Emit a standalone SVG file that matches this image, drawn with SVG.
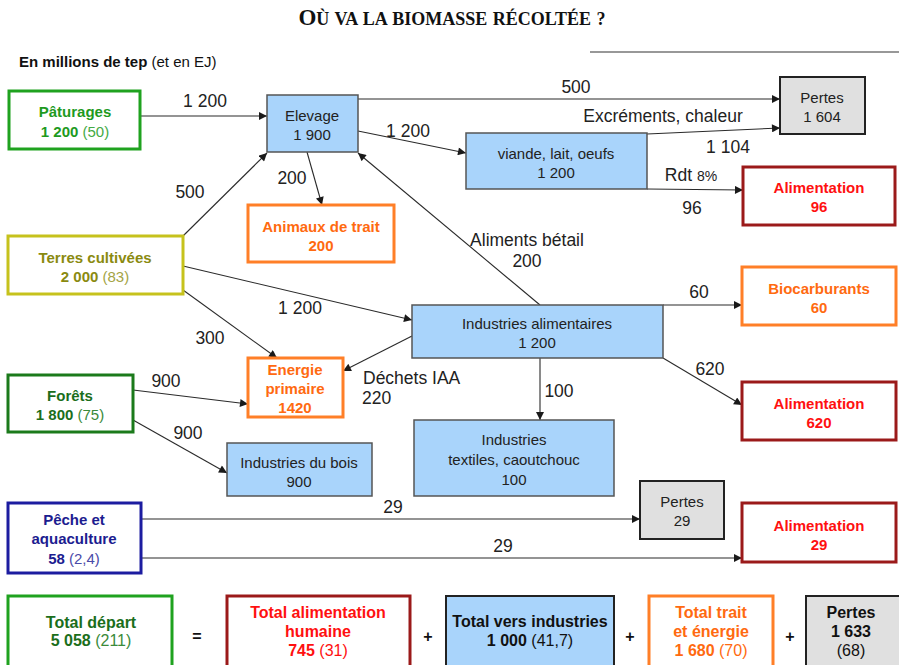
<svg xmlns="http://www.w3.org/2000/svg" width="899" height="665" viewBox="0 0 899 665">
<defs>
<marker id="ah" viewBox="0 0 10 10" refX="10" refY="5" markerWidth="9" markerHeight="8" markerUnits="userSpaceOnUse" orient="auto">
<path d="M0,0 L10,5 L0,10 z" fill="#1a1a1a"/>
</marker>
<style>
text{font-family:"Liberation Sans",Arial,sans-serif;}
.t{font-size:15px;text-anchor:middle;fill:#222;}
.b{font-weight:bold;}
.n{font-weight:normal;}
.lbl{font-size:17.5px;fill:#222;}
.lm{text-anchor:middle;}
.blue{fill:#a9d4fb;stroke:#555;stroke-width:1.5;}
.gray{fill:#e0e0e0;stroke:#222;stroke-width:2;}
.green{fill:#fff;stroke:#1fa21f;stroke-width:3;}
.dgreen{fill:#fff;stroke:#1b7a1b;stroke-width:3;}
.olive{fill:#fff;stroke:#c6c21c;stroke-width:3;}
.orange{fill:#fff;stroke:#ff7f27;stroke-width:3;}
.red{fill:#fff;stroke:#9b1a1a;stroke-width:3;}
.navy{fill:#fff;stroke:#1c1ca0;stroke-width:3;}
.cg{fill:#1e9a1e;}
.cg2{fill:#44aa44;}
.cdg{fill:#1b6e1b;}
.cdg2{fill:#3a8a3a;}
.co{fill:#8a8a10;}
.co2{fill:#a4a444;}
.cor{fill:#ff6a10;}
.cr{fill:#ff1010;}
.cn{fill:#1c1c90;}
.cn2{fill:#4a4aa8;}
.bt{font-size:16px;text-anchor:middle;}
.op{font-size:16px;font-weight:bold;fill:#111;text-anchor:middle;}
.conn line{stroke:#2a2a2a;stroke-width:1.1;marker-end:url(#ah);}
</style>
</defs>
<rect width="899" height="665" fill="#fff"/>

<g id="title">
<text x="452" y="25" text-anchor="middle" style="font-family:'Liberation Serif',serif;font-weight:bold;font-size:18px;word-spacing:1px;fill:#111"><tspan style="font-size:23px">O</tspan>Ù VA LA BIOMASSE RÉCOLTÉE ?</text>
<line x1="590" y1="52" x2="899" y2="52" stroke="#333" stroke-width="1.2"/>
<text x="19" y="67" style="font-size:15px;fill:#111"><tspan font-weight="bold">En millions de tep</tspan> (et en EJ)</text>
</g>

<g id="connectors" class="conn">
<line x1="140" y1="116" x2="267" y2="116"/>
<line x1="358" y1="99" x2="780" y2="99"/>
<line x1="358" y1="131" x2="466" y2="153"/>
<line x1="647" y1="134" x2="780" y2="128"/>
<line x1="647" y1="189" x2="743" y2="190"/>
<line x1="307" y1="152" x2="322" y2="205"/>
<line x1="183" y1="236" x2="267" y2="153"/>
<line x1="540" y1="305" x2="358" y2="153"/>
<line x1="183" y1="266" x2="412" y2="320"/>
<line x1="183" y1="290" x2="277" y2="358"/>
<line x1="412" y1="336" x2="343" y2="371"/>
<line x1="133" y1="390" x2="248" y2="404"/>
<line x1="133" y1="420" x2="227" y2="473"/>
<line x1="663" y1="305" x2="742" y2="305"/>
<line x1="540" y1="358" x2="540" y2="420"/>
<line x1="663" y1="358" x2="742" y2="405"/>
<line x1="141" y1="519" x2="640" y2="519"/>
<line x1="141" y1="558" x2="742" y2="558"/>
</g>

<g id="conn-labels">
<text class="lbl lm" x="205" y="107">1 200</text>
<text class="lbl lm" x="576" y="93">500</text>
<text class="lbl lm" x="408" y="137">1 200</text>
<text class="lbl lm" x="663" y="122">Excréments, chaleur</text>
<text class="lbl lm" x="728" y="153">1 104</text>
<text class="lbl lm" x="691" y="181">Rdt <tspan style="font-size:14px">8%</tspan></text>
<text class="lbl lm" x="692" y="214">96</text>
<text class="lbl lm" x="292" y="184">200</text>
<text class="lbl lm" x="190" y="198">500</text>
<text class="lbl lm" x="527" y="246">Aliments bétail</text>
<text class="lbl lm" x="527" y="267">200</text>
<text class="lbl lm" x="300" y="314">1 200</text>
<text class="lbl lm" x="210" y="344">300</text>
<text class="lbl" x="363" y="384">Déchets IAA</text>
<text class="lbl" x="362" y="404">220</text>
<text class="lbl lm" x="166" y="387">900</text>
<text class="lbl lm" x="188" y="439">900</text>
<text class="lbl lm" x="699" y="298">60</text>
<text class="lbl lm" x="559" y="397">100</text>
<text class="lbl lm" x="710" y="375">620</text>
<text class="lbl lm" x="393" y="513">29</text>
<text class="lbl lm" x="503" y="552">29</text>
</g>

<g id="paturages">
<rect class="green" x="9" y="91" width="131" height="58"/>
<text class="t b cg" x="75" y="117">Pâturages</text>
<text class="t b cg" x="75" y="137">1 200 <tspan class="n cg2">(50)</tspan></text>
</g>
<g id="elevage">
<rect class="blue" x="267" y="95" width="91" height="57"/>
<text class="t" x="312" y="121">Elevage</text>
<text class="t" x="312" y="140">1 900</text>
</g>
<g id="pertes-1604">
<rect class="gray" x="780" y="77" width="85" height="57"/>
<text class="t" x="822" y="103">Pertes</text>
<text class="t" x="822" y="122">1 604</text>
</g>
<g id="viande">
<rect class="blue" x="466" y="133" width="181" height="56"/>
<text class="t" x="556" y="159">viande, lait, oeufs</text>
<text class="t" x="556" y="178">1 200</text>
</g>
<g id="alim-96">
<rect class="red" x="743" y="167" width="152" height="58"/>
<text class="t b cr" x="819" y="193">Alimentation</text>
<text class="t b cr" x="819" y="212">96</text>
</g>
<g id="animaux">
<rect class="orange" x="248" y="205" width="146" height="57"/>
<text class="t b cor" x="321" y="232">Animaux de trait</text>
<text class="t b cor" x="321" y="251">200</text>
</g>
<g id="terres">
<rect class="olive" x="8" y="236" width="175" height="58"/>
<text class="t b co" x="95" y="263">Terres cultivées</text>
<text class="t b co" x="95" y="282">2 000 <tspan class="n co2">(83)</tspan></text>
</g>
<g id="biocarburants">
<rect class="orange" x="742" y="267" width="154" height="58"/>
<text class="t b cor" x="819" y="294">Biocarburants</text>
<text class="t b cor" x="819" y="313">60</text>
</g>
<g id="ind-alim">
<rect class="blue" x="412" y="305" width="251" height="53"/>
<text class="t" x="537" y="329">Industries alimentaires</text>
<text class="t" x="537" y="348">1 200</text>
</g>
<g id="energie">
<rect class="orange" x="248" y="358" width="95" height="59"/>
<text class="t b cor" x="295" y="375">Energie</text>
<text class="t b cor" x="295" y="394">primaire</text>
<text class="t b cor" x="295" y="413">1420</text>
</g>
<g id="forets">
<rect class="dgreen" x="8" y="375" width="125" height="57"/>
<text class="t b cdg" x="70" y="401">Forêts</text>
<text class="t b cdg" x="70" y="420">1 800 <tspan class="n cdg2">(75)</tspan></text>
</g>
<g id="alim-620">
<rect class="red" x="742" y="382" width="154" height="58"/>
<text class="t b cr" x="819" y="409">Alimentation</text>
<text class="t b cr" x="819" y="428">620</text>
</g>
<g id="ind-bois">
<rect class="blue" x="227" y="443" width="145" height="53"/>
<text class="t" x="299" y="468">Industries du bois</text>
<text class="t" x="299" y="487">900</text>
</g>
<g id="ind-textiles">
<rect class="blue" x="414" y="420" width="200" height="76"/>
<text class="t" x="514" y="445">Industries</text>
<text class="t" x="514" y="465">textiles, caoutchouc</text>
<text class="t" x="514" y="485">100</text>
</g>
<g id="pertes-29">
<rect class="gray" x="640" y="481" width="84" height="58"/>
<text class="t" x="682" y="507">Pertes</text>
<text class="t" x="682" y="526">29</text>
</g>
<g id="alim-29">
<rect class="red" x="742" y="503" width="154" height="59"/>
<text class="t b cr" x="819" y="531">Alimentation</text>
<text class="t b cr" x="819" y="550">29</text>
</g>
<g id="peche">
<rect class="navy" x="8" y="503" width="133" height="70"/>
<text class="t b cn" x="74" y="525">Pêche et</text>
<text class="t b cn" x="74" y="544">aquaculture</text>
<text class="t b cn" x="74" y="564">58 <tspan class="n cn2">(2,4)</tspan></text>
</g>

<g id="total-depart">
<rect class="green" x="8" y="596" width="164" height="72"/>
<text class="bt b cdg" x="91" y="628">Total départ</text>
<text class="bt b cdg" x="91" y="646">5 058 <tspan class="n cdg2">(211)</tspan></text>
</g>
<text class="op" x="197" y="642">=</text>
<g id="total-alim">
<rect class="red" x="227" y="596" width="183" height="72"/>
<text class="bt b cr" x="318" y="618">Total alimentation</text>
<text class="bt b cr" x="318" y="637">humaine</text>
<text class="bt b cr" x="318" y="656">745 <tspan class="n">(31)</tspan></text>
</g>
<text class="op" x="428" y="642">+</text>
<g id="total-industries">
<rect class="blue" x="446" y="596" width="168" height="72" style="stroke:#222;stroke-width:2"/>
<text class="bt b" x="530" y="627" fill="#111">Total vers industries</text>
<text class="bt b" x="530" y="646" fill="#111">1 000 <tspan class="n">(41,7)</tspan></text>
</g>
<text class="op" x="630" y="642">+</text>
<g id="total-trait">
<rect class="orange" x="649" y="596" width="124" height="72"/>
<text class="bt b cor" x="711" y="618">Total trait</text>
<text class="bt b cor" x="711" y="637">et énergie</text>
<text class="bt b cor" x="711" y="656">1 680 <tspan class="n">(70)</tspan></text>
</g>
<text class="op" x="790" y="642">+</text>
<g id="total-pertes">
<rect class="gray" x="806" y="596" width="96" height="72"/>
<text class="bt b" x="851" y="618" fill="#111">Pertes</text>
<text class="bt b" x="851" y="637" fill="#111">1 633</text>
<text class="bt" x="851" y="656" fill="#111">(68)</text>
</g>
</svg>
